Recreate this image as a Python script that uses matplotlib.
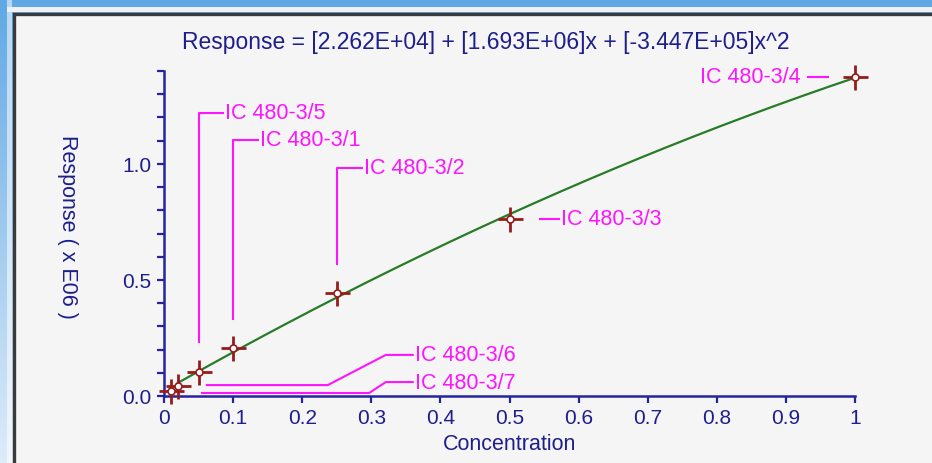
import numpy as np
import matplotlib
matplotlib.use("Agg")
import matplotlib.pyplot as plt
from matplotlib.patches import Rectangle

plt.rcParams['font.family'] = ['Liberation Sans', 'DejaVu Sans']

# Calibration standards: concentration and measured response (x 1E06)
concentration = [0.01, 0.02, 0.05, 0.1, 0.25, 0.5, 1.0]
response = [0.022, 0.043, 0.103, 0.207, 0.444, 0.763, 1.375]
sample_names = ["IC 480-3/7", "IC 480-3/6", "IC 480-3/5", "IC 480-3/1",
                "IC 480-3/2", "IC 480-3/3", "IC 480-3/4"]

# Quadratic fit coefficients (raw response units)
fit_c0 = 2.262E+04
fit_c1 = 1.693E+06
fit_c2 = -3.447E+05
fit_range = (0.02, 1.0)

x_ticks = [0, 0.1, 0.2, 0.3, 0.4, 0.5, 0.6, 0.7, 0.8, 0.9, 1.0]
x_tick_labels = ["0", "0.1", "0.2", "0.3", "0.4", "0.5", "0.6", "0.7", "0.8", "0.9", "1"]
y_ticks = [0.0, 0.5, 1.0]
y_tick_labels = ["0.0", "0.5", "1.0"]

W, H = 932, 464
fig = plt.figure(figsize=(W / 100, H / 100), dpi=100)

# window background: blue frame with a light panel
bg = fig.add_axes([0, 0, 1, 1])
bg.set_axis_off()
yy = np.linspace(0, 1, H)[:, None]
top = np.array([96, 168, 228]) / 255
bot = np.array([222, 236, 249]) / 255
img = np.ones((H, W, 3)) * (top * (1 - yy[..., None]) + bot * yy[..., None])
img[:, 7:12] = img[:, 7:12] * 0.45 + 0.55
img[8:13, 7:] = np.array([238, 242, 246]) / 255
bg.imshow(img, extent=(0, W, H, 0), aspect='auto', interpolation='bilinear')
bg.add_patch(Rectangle((13.5, 14.5), W + 20, H + 20, facecolor='#f5f5f5',
                       edgecolor='#3a3a3a', linewidth=2.4))
bg.set_xlim(0, W)
bg.set_ylim(H, 0)

navy = '#1e1e8c'
axis_col = '#2424a0'
pt_col = '#961c1c'
fit_col = '#287c28'
lab_col = '#ff14ff'

ax = fig.add_axes([164 / W, (H - 397) / H, 691 / W, 325 / H])
ax.patch.set_alpha(0)
ax.set_xlim(0, 1)
ax.set_ylim(0, 1.4)
for s in ('top', 'right'):
    ax.spines[s].set_visible(False)
for s in ('left', 'bottom'):
    ax.spines[s].set_color(axis_col)
    ax.spines[s].set_linewidth(1.8)

ax.set_xticks(x_ticks)
ax.set_xticklabels(x_tick_labels)
ax.set_yticks(y_ticks)
ax.set_yticklabels(y_tick_labels)
ax.set_yticks(np.arange(0, 1.41, 0.1), minor=True)
ax.tick_params(axis='both', colors=axis_col, labelcolor=navy, labelsize=15,
               width=1.6, length=5, direction='out')
ax.tick_params(axis='y', which='minor', colors=axis_col, width=1.6, length=5)
ax.tick_params(axis='x', pad=4)
ax.tick_params(axis='y', pad=4)

ax.set_xlabel("Concentration", color=navy, fontsize=15.5, va='center')
ax.xaxis.set_label_coords(0.5, -0.145)
ax.set_ylabel("Response ( x E06 )", color=navy, fontsize=15.5, rotation=270,
              va='center', ha='center')
ax.yaxis.set_label_coords(-0.139, 0.523)
fig.text(486 / W, 1 - 42 / H,
         "Response = [2.262E+04] + [1.693E+06]x + [-3.447E+05]x^2",
         color=navy, fontsize=16.5, ha='center', va='center')

# fitted calibration curve
xf = np.linspace(fit_range[0], fit_range[1], 400)
yf = (fit_c0 + fit_c1 * xf + fit_c2 * xf ** 2) / 1e6
ax.plot(xf, yf, color=fit_col, lw=1.6, zorder=3, clip_on=False)

# calibration points
ax.plot(concentration, response, linestyle='none', marker='+', ms=18, mew=2.0,
        color=pt_col, zorder=4, clip_on=False)
ax.plot(concentration, response, linestyle='none', marker='o', ms=5, mew=1.2,
        mfc='white', mec=pt_col, zorder=5, clip_on=False)

# sample labels with leader lines
lk = dict(color=lab_col, lw=1.5, clip_on=False, zorder=2)
tk = dict(color=lab_col, fontsize=15.5, va='center', ha='left')

# vertical leaders rising from the points
vert = {2: 1.22, 3: 1.103, 4: 0.983}
gap = {2: 0.13, 3: 0.125, 4: 0.125}
for i, ytop in vert.items():
    x0 = concentration[i]
    ax.plot([x0, x0, x0 + 0.036], [response[i] + gap[i], ytop, ytop], **lk)
    ax.text(x0 + 0.039, ytop, sample_names[i], **tk)

# horizontal leader to the right of the 0.5 point
ax.plot([0.544, 0.572], [response[5], response[5]], **lk)
ax.text(0.575, response[5], sample_names[5], **tk)

# leader to the left of the 1.0 point
ax.plot([0.932, 0.961], [response[6], response[6]], **lk)
ax.text(0.921, response[6], sample_names[6], color=lab_col, fontsize=15.5,
        va='center', ha='right')

# low standards, labelled out to the right
ax.plot([0.062, 0.237, 0.321, 0.360], [0.047, 0.047, 0.177, 0.177], **lk)
ax.text(0.363, 0.177, sample_names[1], **tk)
ax.plot([0.055, 0.297, 0.321, 0.360], [0.013, 0.013, 0.060, 0.060], **lk)
ax.text(0.363, 0.060, sample_names[0], **tk)

fig.savefig("out.png", dpi=100)
